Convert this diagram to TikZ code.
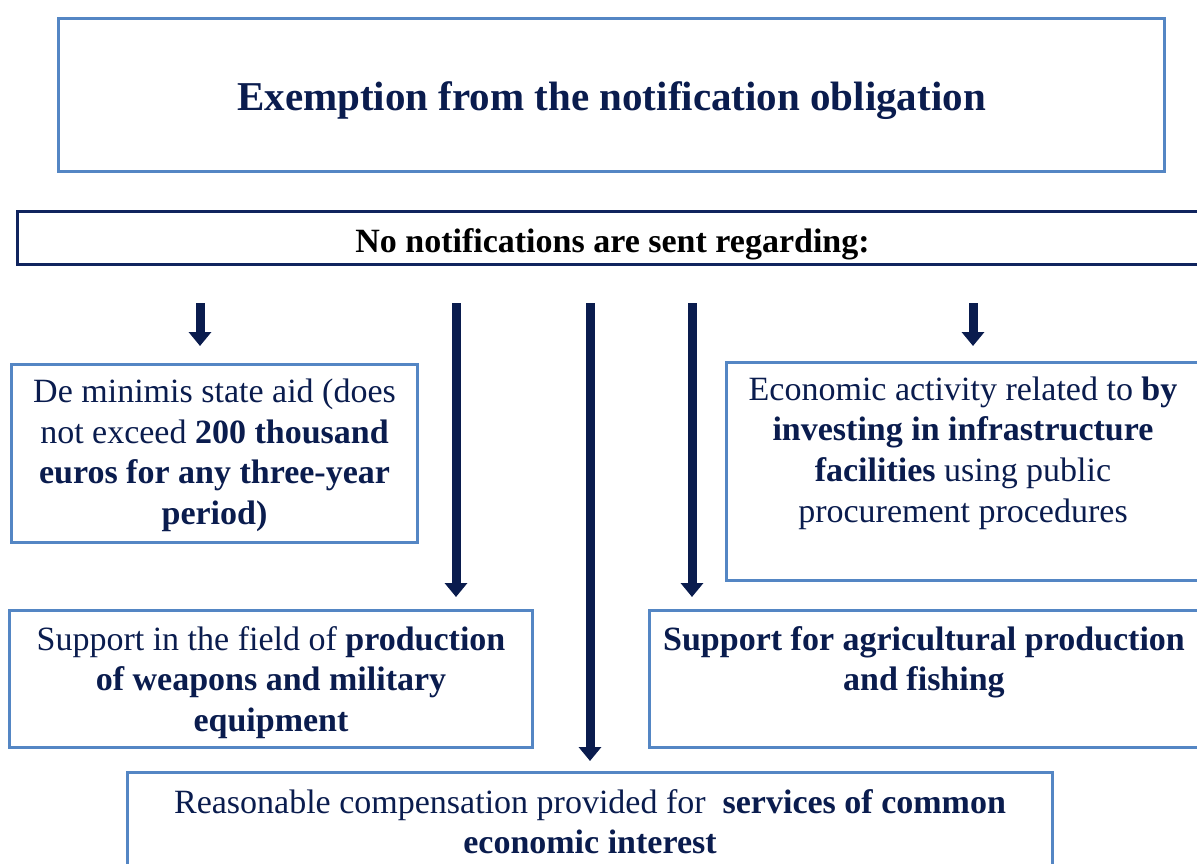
\documentclass[tikz,border=0pt]{standalone}
\usepackage{fontspec}
\setmainfont{Liberation Serif}
\usetikzlibrary{arrows.meta}
\definecolor{boxblue}{RGB}{84,134,196}
\definecolor{navytext}{RGB}{10,28,78}
\definecolor{navyline}{RGB}{16,36,94}
\definecolor{arrownavy}{RGB}{10,28,78}
\newcommand{\bodyfnt}{\fontsize{34}{40.6}\selectfont}
\tikzset{
  lbox/.style={draw=boxblue, line width=3pt, rectangle, outer sep=0pt, inner sep=0pt},
  nbox/.style={draw=navyline, line width=3pt, rectangle, outer sep=0pt, inner sep=0pt},
  txt/.style={text=navytext, align=center, font=\bodyfnt, inner sep=0pt, anchor=north},
  arr/.style={draw=arrownavy, line width=9pt, line cap=butt, -{Triangle[width=22pt,length=14pt]}},
}
\begin{document}
\begin{tikzpicture}[x=1pt,y=-1pt]
\useasboundingbox (0,0) rectangle (1197,864);
\fill[white] (0,0) rectangle (1197,864);
\clip (0,0) rectangle (1197,864);

% title box
\node[lbox, minimum width=1106pt, minimum height=153pt] (top) at (611.5,95) {};
\node[text=navytext, font=\fontsize{41}{48}\selectfont\bfseries, inner sep=0pt, anchor=base] (topt) at (611.5,111) {Exemption from the notification obligation};

% no notifications box
\node[nbox, minimum width=1191pt, minimum height=53pt] (nn) at (612.5,238) {};
\node[text=black, font=\fontsize{34}{40}\selectfont\bfseries, inner sep=0pt, anchor=base] (nnt) at (612.5,252) {No notifications are sent regarding:};

% boxes
\node[lbox, minimum width=406pt, minimum height=178pt] (dm) at (214.5,453) {};
\node[txt] (dmt) at ([yshift=-9.8pt]dm.north) {\strut De minimis state aid (does\\ not exceed \textbf{200 thousand}\\ \textbf{euros for any three-year}\\ \textbf{period)}};

\node[lbox, minimum width=474pt, minimum height=218pt] (ec) at (963,471) {};
\node[txt] (ect) at ([yshift=-9.6pt]ec.north) {\strut Economic activity related to \textbf{by}\\ \textbf{investing in infrastructure}\\ \textbf{facilities} using public\\ procurement procedures};

\node[lbox, minimum width=523pt, minimum height=137pt] (wp) at (271,678.5) {};
\node[txt] (wpt) at ([yshift=-11.6pt]wp.north) {\strut Support in the field of \textbf{production}\\ \textbf{of weapons and military}\\ \textbf{equipment}};

\node[lbox, minimum width=550pt, minimum height=137pt] (ag) at (924,678.5) {};
\node[txt] (agt) at ([yshift=-11.6pt]ag.north) {\strut\textbf{Support for agricultural production}\\ \textbf{and fishing}};

\node[lbox, minimum width=925pt, minimum height=140pt] (rc) at (590,842) {};
\node[txt] (rct) at ([yshift=-12.6pt]rc.north) {\strut Reasonable compensation provided for \ \textbf{services of common}\\ \textbf{economic interest}};

% arrows
\coordinate (a1) at (200,303);
\coordinate (a2) at (456,303);
\coordinate (a3) at (590,303);
\coordinate (a4) at (692,303);
\coordinate (a5) at (973,303);
\draw[arr, shorten >=18pt] (a1) -- (a1 |- dm.north);
\draw[arr, shorten >=13pt] (a2) -- (a2 |- wp.north);
\draw[arr, shorten >=11pt] (a3) -- (a3 |- rc.north);
\draw[arr, shorten >=13pt] (a4) -- (a4 |- ag.north);
\draw[arr, shorten >=16pt] (a5) -- (a5 |- ec.north);
\end{tikzpicture}
\end{document}
